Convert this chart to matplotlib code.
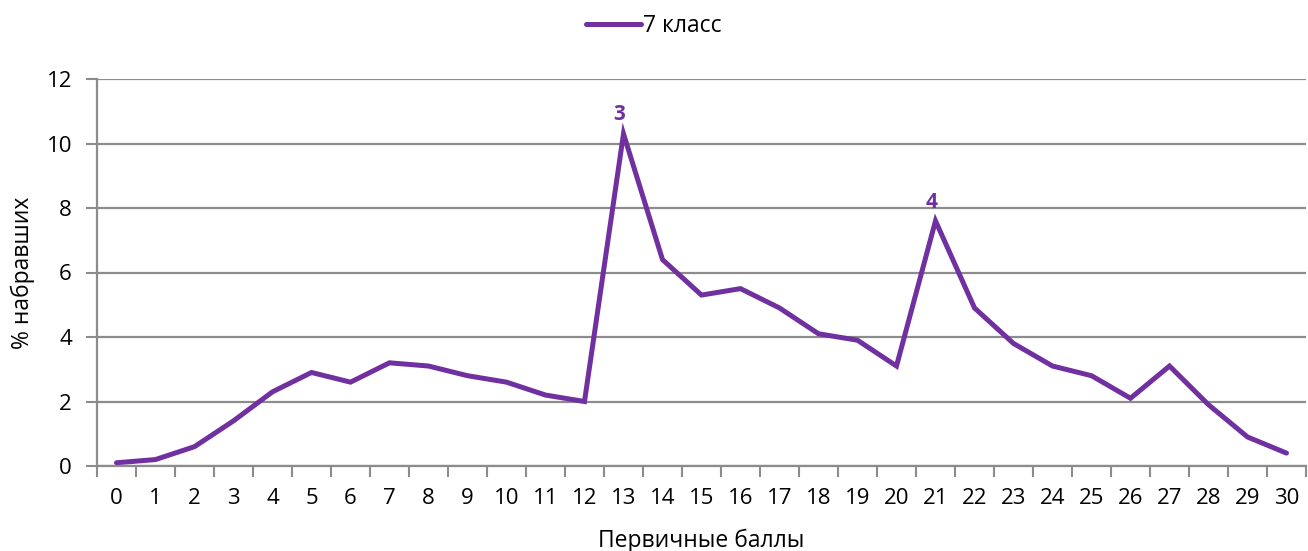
import numpy as np
import matplotlib.pyplot as plt

plt.rcParams['font.family'] = ['Open Sans', 'DejaVu Sans']

# Data
scores = list(range(0, 31))
percent = [0.1, 0.2, 0.6, 1.4, 2.3, 2.9, 2.6, 3.2, 3.1, 2.8, 2.6, 2.2, 2.0, 10.3,
           6.4, 5.3, 5.5, 4.9, 4.1, 3.9, 3.1, 7.6, 4.9, 3.8, 3.1, 2.8, 2.1, 3.1,
           1.9, 0.9, 0.4]
series_name = '7 класс'
peak_labels = {13: '3', 21: '4'}

purple = '#7030A0'
grid_col = '#8c8c8c'

fig = plt.figure(figsize=(13.08, 5.51), dpi=100)
ax = fig.add_axes([97 / 1308, 1 - 466 / 551, (1306 - 97) / 1308, (466 - 79) / 551])

ax.plot(scores, percent, color=purple, linewidth=3.6, label=series_name,
        solid_joinstyle='miter', solid_capstyle='round')

for x, txt in peak_labels.items():
    ax.annotate(txt, (x, percent[x]), xytext=(-3, 6), textcoords='offset points',
                ha='center', va='bottom', color=purple, fontsize=15, fontweight='bold')

ax.set_xlim(-0.5, 30.5)
ax.set_ylim(0, 12)
ax.set_yticks(np.arange(0, 13, 2))
ax.set_xticks(scores)
ax.set_xticks(np.arange(-0.5, 31, 1), minor=True)
ax.tick_params(axis='x', which='major', length=0, pad=16, labelsize=16)
ax.tick_params(axis='x', which='minor', length=8, width=1.5, color=grid_col, direction='out')
ax.tick_params(axis='y', length=8, width=1.5, color=grid_col, pad=10, labelsize=16)

ax.grid(axis='y', color=grid_col, linewidth=1.6)
ax.set_axisbelow(True)
for s in ['top', 'right']:
    ax.spines[s].set_visible(False)
for s in ['left', 'bottom']:
    ax.spines[s].set_color(grid_col)
    ax.spines[s].set_linewidth(1.6)

ax.set_xlabel('Первичные баллы', fontsize=16.5, labelpad=14)
ax.set_ylabel('% набравших', fontsize=16.5, labelpad=8)

leg = fig.legend(loc='upper center', bbox_to_anchor=(0.5, 1.012), frameon=False,
                 fontsize=16.5, handlelength=2.4, handletextpad=0.1)

fig.savefig('out.png', dpi=100)
